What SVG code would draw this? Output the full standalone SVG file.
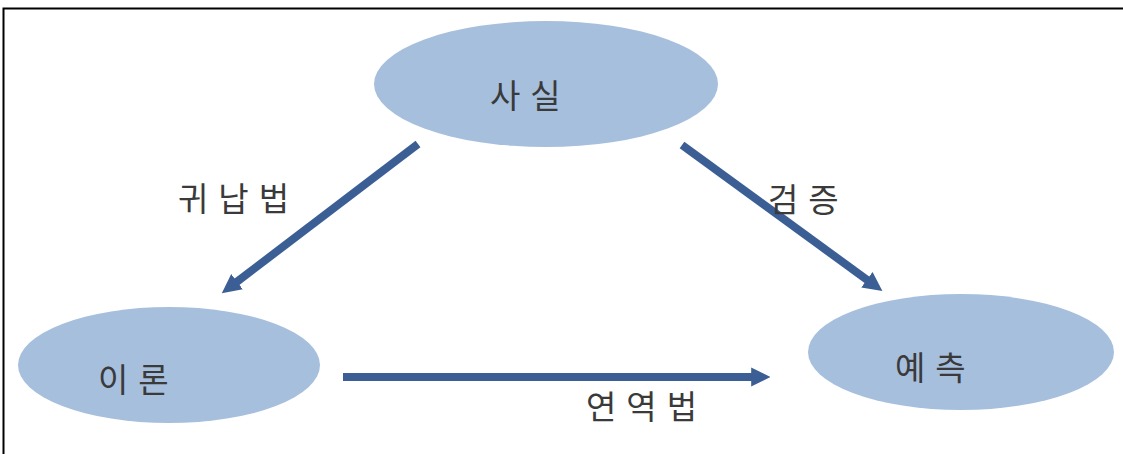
<svg xmlns="http://www.w3.org/2000/svg" width="1123" height="454" viewBox="0 0 1123 454">
<style>
.node{fill:#a6bfdd;}
.lbl{font-family:"Noto Sans CJK KR","Noto Sans",sans-serif;font-size:33px;fill:#3a3a3a;letter-spacing:10px;}
.edge{stroke:#3b5f95;stroke-width:8;fill:none;marker-end:url(#ah);}
</style>
<defs>
<marker id="ah" viewBox="0 0 10 10" refX="2" refY="5" markerWidth="2.4" markerHeight="2.6" orient="auto" markerUnits="strokeWidth">
<path d="M0,0 L10,5 L0,10 Z" fill="#3b5f95"/>
</marker>
</defs>
<rect x="0" y="0" width="1123" height="454" fill="#fff"/>
<path d="M3.5,454 V8.5 H1123" fill="none" stroke="#000" stroke-width="2"/>
<g id="node-fact"><ellipse class="node" cx="546" cy="84" rx="172" ry="63"/><text class="lbl" x="490" y="108">사실</text></g>
<g id="node-theory"><ellipse class="node" cx="169" cy="365" rx="151" ry="58"/><text class="lbl" x="98" y="392">이론</text></g>
<g id="node-predict"><ellipse class="node" cx="961" cy="352" rx="153" ry="58"/><text class="lbl" x="895" y="380">예측</text></g>
<g id="connectors">
<line class="edge" x1="418" y1="144" x2="234" y2="284"/>
<line class="edge" x1="682" y1="145" x2="870" y2="282"/>
<line class="edge" x1="343" y1="377" x2="755" y2="377"/>
</g>
<g id="edge-labels">
<text class="lbl" x="178" y="211">귀납법</text>
<text class="lbl" x="768" y="212">검증</text>
<text class="lbl" x="586" y="419">연역법</text>
</g>
</svg>
